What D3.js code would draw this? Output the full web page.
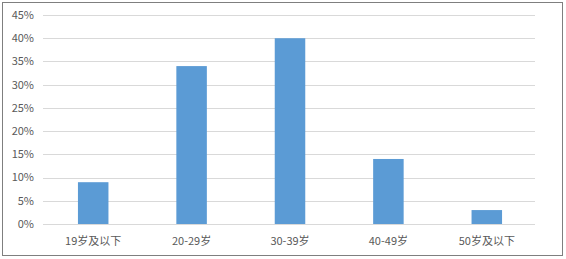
<!DOCTYPE html>
<html>
<head>
<meta charset="utf-8">
<script src="https://cdn.jsdelivr.net/npm/d3@7"></script>
<style>
  body { margin: 0; background: #fff; }
  text { font-family: "Noto Sans CJK SC", "Open Sans", sans-serif; fill: #595959; font-size: 11px; }
</style>
</head>
<body>
<script>
var categories = ["19岁及以下", "20-29岁", "30-39岁", "40-49岁", "50岁及以下"];
var values = [9, 34, 40, 14, 3];
var yTicks = [0, 5, 10, 15, 20, 25, 30, 35, 40, 45];

var width = 566, height = 259;

var svg = d3.select("body").append("svg")
    .attr("width", width)
    .attr("height", height);

// chart border
svg.append("rect")
    .attr("x", 2.5).attr("y", 2.5)
    .attr("width", 560).attr("height", 253)
    .attr("fill", "#fff")
    .attr("stroke", "#7f7f7f")
    .attr("stroke-width", 1);

var x = d3.scaleBand()
    .domain(categories)
    .range([44, 536])
    .paddingInner(0.69)
    .paddingOuter(0.345);

var y = d3.scaleLinear()
    .domain([0, 45])
    .range([224, 15]);

// grid lines
svg.append("g").selectAll("line")
    .data(yTicks)
    .enter().append("line")
    .attr("x1", 43).attr("x2", 535)
    .attr("y1", function(d) { return Math.round(y(d)) + 0.5; })
    .attr("y2", function(d) { return Math.round(y(d)) + 0.5; })
    .attr("stroke", "#d9d9d9")
    .attr("stroke-width", 1);

// y labels
svg.append("g").selectAll("text")
    .data(yTicks)
    .enter().append("text")
    .attr("x", 34)
    .attr("y", function(d) { return y(d); })
    .attr("dy", "0.35em")
    .attr("text-anchor", "end")
    .text(function(d) { return d + "%"; });

// bars
svg.append("g").selectAll("rect")
    .data(values)
    .enter().append("rect")
    .attr("x", function(d, i) { return x(categories[i]); })
    .attr("y", function(d) { return y(d); })
    .attr("width", x.bandwidth())
    .attr("height", function(d) { return y(0) - y(d); })
    .attr("fill", "#5b9bd5");

// x labels
svg.append("g").selectAll("text")
    .data(categories)
    .enter().append("text")
    .attr("x", function(d) { return x(d) + x.bandwidth() / 2; })
    .attr("y", 241)
    .attr("dy", "0.35em")
    .attr("text-anchor", "middle")
    .text(function(d) { return d; });
</script>
</body>
</html>
